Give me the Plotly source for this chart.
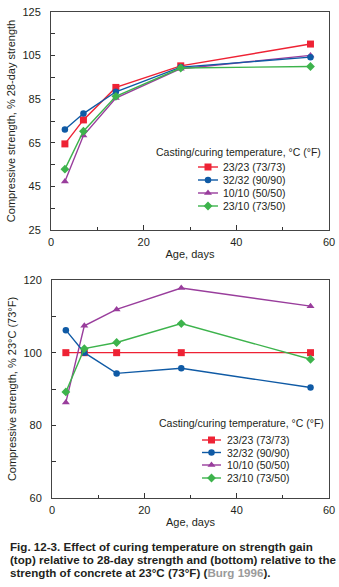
import plotly.graph_objects as go

W, H = 339, 587

# ---- data ----
age = [3, 7, 14, 28, 56]
series_names = ["23/23 (73/73)", "32/32 (90/90)", "10/10 (50/50)", "23/10 (73/50)"]
top_vals = {
    "23/23 (73/73)": [64.5, 75.5, 90.4, 100.3, 110.3],
    "32/32 (90/90)": [71.1, 78.4, 88.4, 99.7, 104.3],
    "10/10 (50/50)": [47.2, 68.3, 85.5, 99.0, 105.1],
    "23/10 (73/50)": [52.9, 70.3, 86.3, 99.3, 100.0],
}
bottom_vals = {
    "23/23 (73/73)": [100, 100, 100, 100, 100],
    "32/32 (90/90)": [106.2, 100.0, 94.3, 95.7, 90.4],
    "10/10 (50/50)": [86.3, 107.4, 111.9, 117.8, 112.8],
    "23/10 (73/50)": [89.2, 101.1, 102.8, 108.0, 98.2],
}
colors = {
    "23/23 (73/73)": "#ee2234",
    "32/32 (90/90)": "#0f5aa5",
    "10/10 (50/50)": "#993d9c",
    "23/10 (73/50)": "#3db34c",
}
symbols = {
    "23/23 (73/73)": ("square", 7),
    "32/32 (90/90)": ("circle", 6.5),
    "10/10 (50/50)": ("triangle-up", 7),
    "23/10 (73/50)": ("diamond", 6.8),
}
draw_order = ["23/23 (73/73)", "10/10 (50/50)", "32/32 (90/90)", "23/10 (73/50)"]
legend_title = "Casting/curing temperature, °C (°F)"

TXT = "#231f20"
FONT = "Liberation Sans, Arial, sans-serif"

def px_x(p):
    return p / W

def px_y(p):
    return 1 - p / H

fig = go.Figure()

for name in draw_order:
    sym, sz = symbols[name]
    fig.add_trace(go.Scatter(x=age, y=top_vals[name], mode="lines+markers",
                             line=dict(color=colors[name], width=1.4),
                             marker=dict(symbol=sym, size=sz, color=colors[name]),
                             xaxis="x", yaxis="y", showlegend=False))
for name in draw_order:
    sym, sz = symbols[name]
    fig.add_trace(go.Scatter(x=age, y=bottom_vals[name], mode="lines+markers",
                             line=dict(color=colors[name], width=1.4),
                             marker=dict(symbol=sym, size=sz, color=colors[name]),
                             xaxis="x2", yaxis="y2", showlegend=False))

# ---- manual legends (layout positions in pixels on an overlay axis) ----
legend_layouts = [
    dict(title_x=239, title_y=152, line_x0=198, line_x1=218, text_x=221,
         rows=[167, 180, 193, 206]),
    dict(title_x=241, title_y=423, line_x0=202, line_x1=221, text_x=225,
         rows=[440, 452.5, 465, 478]),
]
annotations = []
for lg in legend_layouts:
    annotations.append(dict(x=px_x(lg["title_x"]), y=px_y(lg["title_y"]), xref="paper", yref="paper",
                            text=legend_title, showarrow=False, xanchor="center", yanchor="middle",
                            font=dict(family=FONT, size=10.5, color=TXT)))
    for name, ry in zip(series_names, lg["rows"]):
        sym, sz = symbols[name]
        fig.add_trace(go.Scatter(x=[lg["line_x0"], lg["line_x1"]], y=[ry, ry], mode="lines",
                                 line=dict(color=colors[name], width=1.4),
                                 xaxis="x3", yaxis="y3", showlegend=False, hoverinfo="skip"))
        fig.add_trace(go.Scatter(x=[(lg["line_x0"] + lg["line_x1"]) / 2], y=[ry], mode="markers",
                                 marker=dict(symbol=sym, size=sz, color=colors[name]),
                                 xaxis="x3", yaxis="y3", showlegend=False, hoverinfo="skip"))
        annotations.append(dict(x=px_x(lg["text_x"]), y=px_y(ry), xref="paper", yref="paper",
                                text=name, showarrow=False, xanchor="left", yanchor="middle",
                                font=dict(family=FONT, size=10.5, color=TXT)))

# ---- caption ----
caption_lines = [
    "Fig. 12-3. Effect of curing temperature on strength gain",
    "(top) relative to 28-day strength and (bottom) relative to the",
    "strength of concrete at 23°C (73°F) (<span style='color:#9a9a9a'>Burg 1996</span>).",
]
for line, cy in zip(caption_lines, [546, 559, 572]):
    annotations.append(dict(x=px_x(8), y=px_y(cy), xref="paper", yref="paper",
                            text="<b>" + line + "</b>", showarrow=False,
                            xanchor="left", yanchor="middle",
                            font=dict(family=FONT, size=11.6, color=TXT)))

xdom = [px_x(51), px_x(329)]
common_x = dict(range=[0, 60], tick0=0, dtick=20, ticks="inside", ticklen=5, tickwidth=1,
                tickcolor="#333", showline=True, linecolor="#444", linewidth=1, mirror=True,
                showgrid=False, zeroline=False, ticklabelstandoff=2,
                minor=dict(ticks="inside", dtick=10, tick0=0, ticklen=3, tickcolor="#333"),
                tickfont=dict(family=FONT, size=11, color=TXT),
                title=dict(text="Age, days", font=dict(family=FONT, size=11, color=TXT), standoff=3),
                automargin=False, fixedrange=True)
common_y = dict(ticks="inside", ticklen=4, tickwidth=1, tickcolor="#333", showline=True,
                linecolor="#444", linewidth=1, mirror=True, showgrid=False, zeroline=False,
                ticklabelstandoff=7, tickfont=dict(family=FONT, size=11, color=TXT),
                automargin=False, fixedrange=True)

fig.update_layout(
    width=W, height=H, margin=dict(l=0, r=0, t=0, b=0),
    paper_bgcolor="white", plot_bgcolor="rgba(0,0,0,0)",
    font=dict(family=FONT, size=11, color=TXT),
    xaxis=dict(domain=xdom, anchor="y", **common_x),
    yaxis=dict(domain=[px_y(230), px_y(12)], anchor="x", range=[25, 125], tick0=25, dtick=20,
               minor=dict(ticks="inside", dtick=10, tick0=25, ticklen=4, tickcolor="#333"),
               title=dict(text="Compressive strength, % 28-day strength",
                          font=dict(family=FONT, size=11, color=TXT), standoff=4),
               **common_y),
    xaxis2=dict(domain=[px_x(52), px_x(329)], anchor="y2", **common_x),
    yaxis2=dict(domain=[px_y(498), px_y(280)], anchor="x2", range=[60, 120], tick0=60, dtick=20,
                minor=dict(ticks="inside", dtick=10, tick0=60, ticklen=4, tickcolor="#333"),
                title=dict(text="Compressive strength, % 23°C (73°F)",
                           font=dict(family=FONT, size=11, color=TXT), standoff=4),
                **common_y),
    xaxis3=dict(domain=[0, 1], range=[0, W], visible=False, fixedrange=True, anchor="y3"),
    yaxis3=dict(domain=[0, 1], range=[H, 0], visible=False, fixedrange=True, anchor="x3"),
    annotations=annotations,
    showlegend=False,
)

fig.write_html("out.html")
